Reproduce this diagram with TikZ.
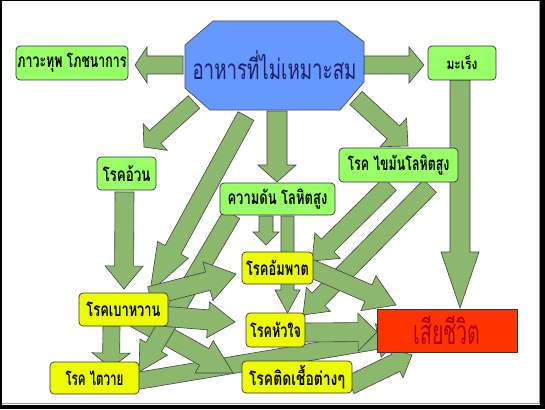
\documentclass[tikz,border=0pt]{standalone}
\usepackage{fontspec}
\usepackage{graphicx}
\newfontfamily\thai[Script=Thai]{Loma}
\usetikzlibrary{calc}
\definecolor{arrowfill}{RGB}{140,184,110}
\definecolor{lgreen}{RGB}{153,255,102}
\definecolor{yel}{RGB}{238,252,0}
\definecolor{octblue}{RGB}{102,153,255}
\definecolor{navy}{RGB}{30,30,100}
\definecolor{deathred}{RGB}{255,51,0}
\definecolor{deathtext}{RGB}{175,0,0}
\newcommand\fitw[2]{\resizebox{#1pt}{\height}{#2}}
\newcommand\blockarrow[5]{%
  \coordinate (bab) at ($(#2)!#5pt!(#1)$);
  \path[arw] ($(#1)!#3pt!90:(#2)$) -- ($(bab)!#3pt!90:(#2)$) -- ($(bab)!#4pt!90:(#2)$) -- (#2)
    -- ($(bab)!#4pt!-90:(#2)$) -- ($(bab)!#3pt!-90:(#2)$) -- ($(#1)!#3pt!-90:(#2)$) -- cycle;
}
\tikzset{
  arw/.style={fill=arrowfill, draw=black!75, line width=0.6pt, line join=miter},
  boxbase/.style={draw=black!80, line width=0.7pt, rounded corners=4pt, inner sep=0pt,
    font=\thai\bfseries\fontsize{19}{19}\selectfont},
  gbox/.style={boxbase, fill=lgreen},
  ybox/.style={boxbase, fill=yel},
}
\begin{document}
\begin{tikzpicture}[x=1pt,y=-1pt]
\useasboundingbox (0,0) rectangle (545,409);
% frame
\fill[black] (0,0) rectangle (545,409);
\fill[white] (1.5,1.5) rectangle (540,405);
\draw[black!40, line width=0.5pt] (539,1.5) -- (539,403.5) -- (1.5,403.5);

% arrow end points
\coordinate (a1s) at (183,65);   \coordinate (a1e) at (135,65);
\coordinate (a2s) at (364,65);   \coordinate (a2e) at (424,65);
\coordinate (a3s) at (194,102);  \coordinate (a3e) at (144,147);
\coordinate (a4s) at (246,116);  \coordinate (a4e) at (150,292);
\coordinate (a5s) at (277,111);  \coordinate (a5e) at (277,182);
\coordinate (a6s) at (356,98);   \coordinate (a6e) at (408,146);
\coordinate (a7s) at (460,80);   \coordinate (a7e) at (460,308);
\coordinate (a8s) at (124.5,192);\coordinate (a8e) at (124,289);
\coordinate (a9s) at (232,214);  \coordinate (a9e) at (139,372);
\coordinate (a10s) at (266,216); \coordinate (a10e) at (266,245);
\coordinate (a11s) at (287.5,216);\coordinate (a11e) at (287.5,313);
\coordinate (a12s) at (390,184); \coordinate (a12e) at (312,261);
\coordinate (a13s) at (430,186); \coordinate (a13e) at (303,315);
\coordinate (a14s) at (310,268); \coordinate (a14e) at (396,305);
\coordinate (a15s) at (303,332.5);\coordinate (a15e) at (377,332);
\coordinate (a16s) at (137,381); \coordinate (a16e) at (400,337);
\coordinate (a17s) at (150,296); \coordinate (a17e) at (236,274);
\coordinate (a18s) at (160,316); \coordinate (a18e) at (235,322);
\coordinate (a19s) at (135,318); \coordinate (a19e) at (233,373);
\coordinate (a20s) at (111.5,326);\coordinate (a20e) at (111,368);
\coordinate (a21s) at (350,385); \coordinate (a21e) at (412,355);

% block arrows: start, end, shaft half width, head half width, head length
\blockarrow{a1s}{a1e}{9}{18}{12}
\blockarrow{a2s}{a2e}{9}{18}{15}
\blockarrow{a3s}{a3e}{8.5}{18}{15}
\blockarrow{a5s}{a5e}{10}{19}{17}
\blockarrow{a6s}{a6e}{9}{19.5}{20}
\blockarrow{a7s}{a7e}{10}{19}{56}
\blockarrow{a8s}{a8e}{9.5}{19}{23}
\blockarrow{a16s}{a16e}{8.5}{17}{22}
\blockarrow{a19s}{a19e}{9.5}{18.5}{33}
\blockarrow{a9s}{a9e}{9}{16}{29}
\blockarrow{a4s}{a4e}{9}{17.5}{48}
\blockarrow{a17s}{a17e}{9.5}{20}{29}
\blockarrow{a18s}{a18e}{10}{18}{27}
\blockarrow{a20s}{a20e}{8.5}{19}{15}
\blockarrow{a10s}{a10e}{7}{13}{13}
\blockarrow{a11s}{a11e}{6.5}{12.5}{23}
\blockarrow{a12s}{a12e}{9}{18}{22}
\blockarrow{a13s}{a13e}{9}{17}{22}
\blockarrow{a14s}{a14e}{9}{19}{30}
\blockarrow{a15s}{a15e}{9.5}{19}{19}
\blockarrow{a21s}{a21e}{9.5}{16.5}{18}

% central octagon
\path[fill=octblue, draw=black!70, line width=0.7pt]
  (185,45) -- (213,21) -- (337,21) -- (364,42) -- (364,82) -- (340,110) -- (210,110) -- (185,88) -- cycle;
\node[inner sep=0pt, text=navy, font=\thai\fontsize{28}{28}\selectfont] (food) at (274.5,65)
  {\fitw{164}{อาหารที่ไม่เหมาะสม}};

% boxes
\node[gbox, minimum width=112pt, minimum height=34pt] (bhava) at (72,63) {\fitw{109}{ภาวะทุพ โภชนาการ}};
\node[gbox, minimum width=68pt, minimum height=34pt, font=\thai\bfseries\fontsize{15}{15}\selectfont] (mareng) at (462,63) {\fitw{31}{มะเร็ง}};
\node[gbox, minimum width=59pt, minimum height=33pt] (uan) at (126.5,173.5) {\fitw{48}{โรคอ้วน}};
\node[gbox, minimum width=115pt, minimum height=32pt] (pressure) at (277.5,199) {\fitw{100}{ความดัน โลหิตสูง}};
\node[gbox, minimum width=119pt, minimum height=34pt] (lipid) at (398.5,165) {\fitw{102}{โรค ไขมันโลหิตสูง}};
\node[ybox, minimum width=71pt, minimum height=32pt] (stroke) at (277.5,268) {\fitw{63}{โรคอัมพาต}};
\node[ybox, minimum width=89pt, minimum height=33pt] (diabetes) at (123.5,309.5) {\fitw{74}{โรคเบาหวาน}};
\node[ybox, minimum width=59pt, minimum height=34pt] (heart) at (275.5,330) {\fitw{51}{โรคหัวใจ}};
\node[ybox, minimum width=89pt, minimum height=32pt] (kidney) at (94.5,378) {\fitw{58}{โรค ไตวาย}};
\node[ybox, minimum width=110pt, minimum height=32pt] (infect) at (297,377) {\fitw{96}{โรคติดเชื้อต่างๆ}};
\node[draw=black!80, line width=0.7pt, fill=deathred, inner sep=0pt, minimum width=140pt, minimum height=43pt,
  text=deathtext, font=\thai\fontsize{34}{34}\selectfont] (death) at (447,330.5) {\fitw{67}{เสียชีวิต}};
\end{tikzpicture}
\end{document}
